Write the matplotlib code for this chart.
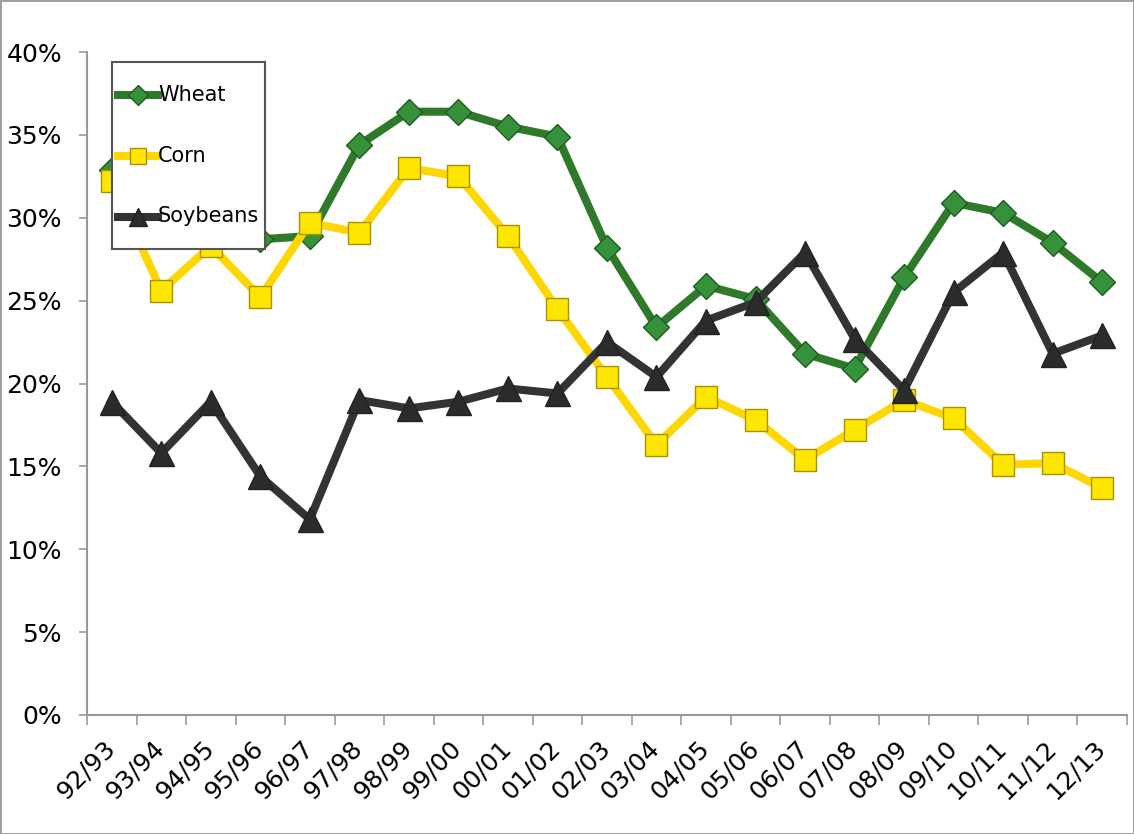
import matplotlib
matplotlib.use('Agg')
import numpy as np
import matplotlib.pyplot as plt
from matplotlib.ticker import FuncFormatter, FixedLocator
from matplotlib.transforms import ScaledTranslation

seasons = ['92/93', '93/94', '94/95', '95/96', '96/97', '97/98', '98/99',
           '99/00', '00/01', '01/02', '02/03', '03/04', '04/05', '05/06',
           '06/07', '07/08', '08/09', '09/10', '10/11', '11/12', '12/13']

wheat = [32.9, 30.5, 28.4, 28.7, 28.9, 34.4, 36.4, 36.4, 35.5, 34.9, 28.2,
         23.4, 25.9, 25.1, 21.8, 20.9, 26.4, 30.9, 30.3, 28.5, 26.1]
corn = [32.2, 25.6, 28.3, 25.2, 29.7, 29.1, 33.0, 32.5, 28.9, 24.5, 20.4,
        16.3, 19.2, 17.8, 15.4, 17.2, 19.0, 17.9, 15.1, 15.2, 13.7]
soybeans = [18.9, 15.8, 18.9, 14.4, 11.8, 19.0, 18.5, 18.9, 19.7, 19.4, 22.5,
            20.4, 23.8, 24.9, 27.9, 22.7, 19.6, 25.5, 27.9, 21.8, 22.9]

plt.rcParams['font.family'] = ['DejaVu Sans']

fig = plt.figure(figsize=(11.34, 8.34), dpi=100)
fig.patch.set_edgecolor('#a0a0a0')
fig.patch.set_linewidth(2)
ax = fig.add_axes([0.0767, 0.1427, 0.9171, 0.7949])

x = list(range(len(seasons)))

ax.plot(x, wheat, color='#2f7a2a', linewidth=5.8, marker='D', markersize=13.5,
        markerfacecolor='#35923a', markeredgecolor='#1f5c1f', markeredgewidth=1,
        label='Wheat', zorder=3, solid_joinstyle='miter')
ax.plot(x, corn, color='#ffd700', linewidth=5.8, marker='s', markersize=16.5,
        markerfacecolor='#ffe600', markeredgecolor='#a89200', markeredgewidth=1,
        label='Corn', zorder=4, solid_joinstyle='miter')
ax.plot(x, soybeans, color='#333333', linewidth=5.8, marker='^', markersize=18,
        markerfacecolor='#2b2b2b', markeredgecolor='#222222', markeredgewidth=1,
        label='Soybeans', zorder=5, solid_joinstyle='miter')

ax.set_xlim(-0.5, len(seasons) - 0.5)
ax.set_ylim(0, 40)

# category labels at centers, tick marks at boundaries
ax.set_xticks(x)
ax.set_xticklabels(seasons, rotation=45, ha='right', va='top',
                   rotation_mode='anchor', fontsize=18)
ax.tick_params(axis='x', which='major', length=0, pad=15)
ax.xaxis.set_minor_locator(FixedLocator([i - 0.5 for i in range(len(seasons) + 1)]))
ax.tick_params(axis='x', which='minor', length=7, width=1.2, color='#999999',
               direction='out')
shift = ScaledTranslation(-6.5 / 72, 0, fig.dpi_scale_trans)
for lbl in ax.get_xticklabels():
    lbl.set_transform(lbl.get_transform() + shift)

ax.set_yticks(range(0, 41, 5))
ax.yaxis.set_major_formatter(FuncFormatter(lambda v, pos: f'{int(v)}%'))
ax.tick_params(axis='y', length=6, width=1.2, color='#999999', pad=12,
               labelsize=18)

for side in ['top', 'right']:
    ax.spines[side].set_visible(False)
for side in ['left', 'bottom']:
    ax.spines[side].set_color('#999999')
    ax.spines[side].set_linewidth(1.5)

hh = 3.56
leg = ax.legend(loc='upper left', bbox_to_anchor=(112 / 1134, 1 - 62 / 834),
                bbox_transform=fig.transFigure, borderaxespad=0,
                fontsize=15, handlelength=1.9, handleheight=hh,
                labelspacing=0.36, borderpad=0.3, handletextpad=0.0,
                markerscale=0.72, fancybox=False, framealpha=1)
leg.get_frame().set_edgecolor('#555555')
leg.get_frame().set_linewidth(1.5)
leg.set_zorder(10)
# line up the handles with the label text
for h in leg.legend_handles:
    h.set_ydata(np.asarray(h.get_ydata()) - 0.175 * 15 * (hh - 0.7))

fig.savefig('out.png', dpi=100)
